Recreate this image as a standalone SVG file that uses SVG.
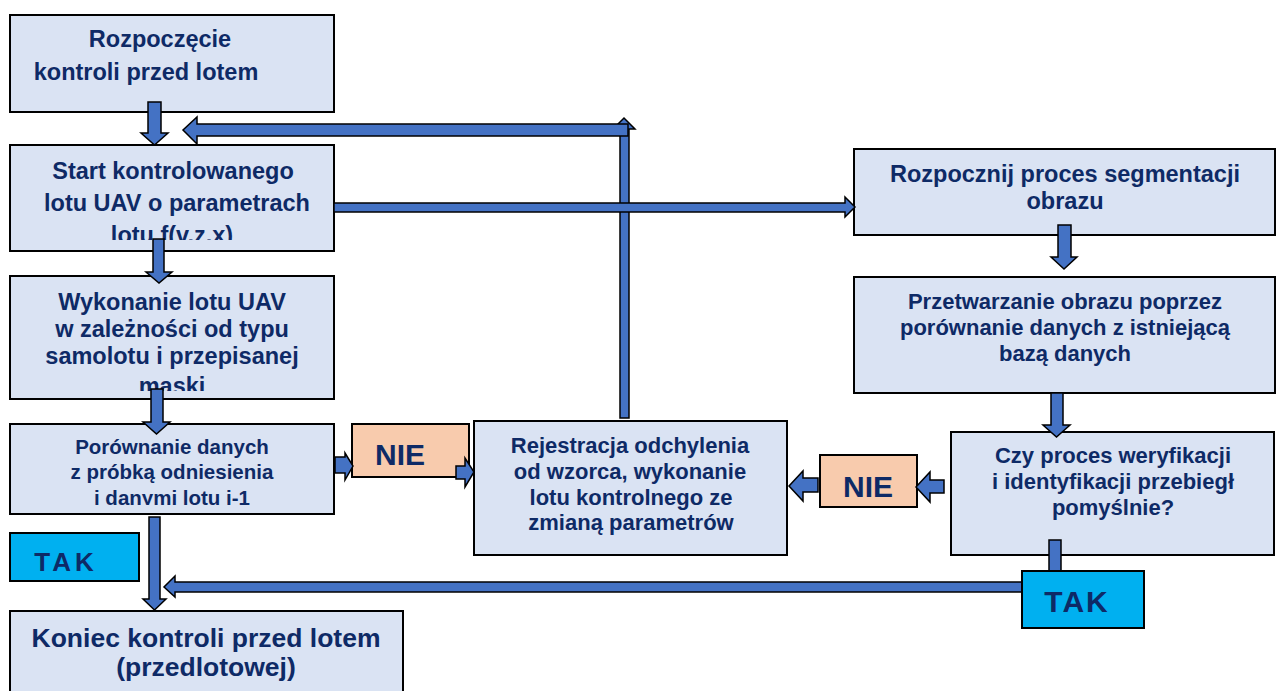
<svg xmlns="http://www.w3.org/2000/svg" width="1278" height="691" viewBox="0 0 1278 691">
<style>
.box{fill:#DAE3F3;stroke:#000;stroke-width:2}
.nie{fill:#F8CBAD;stroke:#000;stroke-width:2}
.tak{fill:#00B0F0;stroke:#000;stroke-width:2}
.t{font-family:"Liberation Sans",Arial,sans-serif;font-weight:bold;fill:#0E2A66;text-anchor:middle}
.arr{fill:#4472C4;stroke:#000;stroke-width:1.5;stroke-linejoin:miter}
</style>
<defs>
<clipPath id="c2"><rect x="10" y="145" width="324" height="95"/></clipPath>
<clipPath id="c3"><rect x="10" y="276" width="324" height="115"/></clipPath>
<clipPath id="c4"><rect x="10" y="424" width="324" height="81"/></clipPath>
</defs>
<rect width="1278" height="691" fill="#fff"/>

<g id="n1">
<rect class="box" x="10" y="15" width="324" height="97"/>
<text class="t" font-size="23.5"><tspan x="160" y="47">Rozpoczęcie</tspan><tspan x="146" y="80">kontroli przed lotem</tspan></text>
</g>
<g id="n2">
<rect class="box" x="10" y="145" width="324" height="106"/>
<g clip-path="url(#c2)"><text class="t" font-size="23.5"><tspan x="173" y="179">Start kontrolowanego</tspan><tspan x="177" y="211">lotu UAV o parametrach</tspan><tspan x="172" y="243">lotu f(v.z.x)</tspan></text></g>
</g>
<g id="n3">
<rect class="box" x="10" y="276" width="324" height="123"/>
<g clip-path="url(#c3)"><text class="t" font-size="23.5"><tspan x="172" y="310">Wykonanie lotu UAV</tspan><tspan x="172" y="337">w zależności od typu</tspan><tspan x="172" y="364">samolotu i przepisanej</tspan><tspan x="172" y="394">maski</tspan></text></g>
</g>
<g id="n4">
<rect class="box" x="10" y="424" width="324" height="90"/>
<g clip-path="url(#c4)"><text class="t" font-size="20.5"><tspan x="172" y="454">Porównanie danych</tspan><tspan x="172" y="479">z próbką odniesienia</tspan><tspan x="172" y="505">i danymi lotu i-1</tspan></text></g>
</g>
<g id="tak1">
<rect class="tak" x="10" y="533" width="129" height="48"/>
<text class="t" font-size="26" letter-spacing="4" x="66" y="571">TAK</text>
</g>
<g id="n5">
<rect class="box" x="10" y="611" width="393" height="95"/>
<text class="t" font-size="26.5"><tspan x="206" y="647">Koniec kontroli przed lotem</tspan><tspan x="206" y="676">(przedlotowej)</tspan></text>
</g>
<g id="nie1">
<rect class="nie" x="352" y="424" width="117" height="53"/>
<text class="t" font-size="30" x="400" y="465">NIE</text>
</g>
<g id="n6">
<rect class="box" x="474" y="421" width="313" height="134"/>
<text class="t" font-size="22"><tspan x="630" y="453">Rejestracja odchylenia</tspan><tspan x="630" y="479">od wzorca, wykonanie</tspan><tspan x="631" y="505">lotu kontrolnego ze</tspan><tspan x="631" y="530">zmianą parametrów</tspan></text>
</g>
<g id="nie2">
<rect class="nie" x="820" y="455" width="97" height="52"/>
<text class="t" font-size="30" x="868" y="497">NIE</text>
</g>
<g id="n7">
<rect class="box" x="854" y="149" width="421" height="86"/>
<text class="t" font-size="23.5"><tspan x="1065" y="182">Rozpocznij proces segmentacji</tspan><tspan x="1065" y="209">obrazu</tspan></text>
</g>
<g id="n8">
<rect class="box" x="854" y="277" width="421" height="116"/>
<text class="t" font-size="22"><tspan x="1065" y="309">Przetwarzanie obrazu poprzez</tspan><tspan x="1065" y="335">porównanie danych z istniejącą</tspan><tspan x="1065" y="361">bazą danych</tspan></text>
</g>
<g id="n9">
<rect class="box" x="951" y="432" width="323" height="123"/>
<text class="t" font-size="22"><tspan x="1113" y="463">Czy proces weryfikacji</tspan><tspan x="1113" y="489">i identyfikacji przebiegł</tspan><tspan x="1113" y="515">pomyślnie?</tspan></text>
</g>

<g id="connectors">
<polygon class="arr" points="148,102 161,102 161,133 168,133 154.5,145 141,133 148,133"/>
<polygon class="arr" points="153,239 164,239 164,272 172,272 159,283 146,272 153,272"/>
<polygon class="arr" points="151,389 163,389 163,422 170,422 156.5,434 143,422 151,422"/>
<polygon class="arr" points="149,517 160,517 160,599 166,599 154.5,610 143,599 149,599"/>
<polygon class="arr" points="620,418 629,418 629,129 635,129 624,118 613,129 620,129"/>
<polygon class="arr" points="628,124 628,136 197,136 197,144 183,130 197,117 197,124"/>
<polygon class="arr" points="334,203 845,203 845,197 855,207 845,217 845,212 334,212"/>
<polygon class="arr" points="1058,225 1071,225 1071,257 1077,257 1064,269 1051,257 1058,257"/>
<polygon class="arr" points="1051,393 1063,393 1063,425 1070,425 1056.5,437 1043,425 1051,425"/>
<polygon class="arr" points="944,480 944,493 930,493 930,502 916,487 930,472 930,480"/>
<polygon class="arr" points="818,478 818,492 803,492 803,501 789,486 803,471 803,478"/>
<polygon class="arr" points="335,457 345,457 345,453 353,466 345,480 345,473 335,473"/>
<polygon class="arr" points="456,466 465,466 465,458 474,472 465,487 465,479 456,479"/>
<polygon class="arr" points="1022,582 1022,592 175,592 175,597 164,587 175,576 175,582"/>
<rect class="arr" x="1049" y="540" width="12" height="31"/>
</g>

<g id="tak2">
<rect class="tak" x="1022" y="571" width="122" height="57"/>
<text class="t" font-size="30" letter-spacing="2" x="1077" y="612">TAK</text>
</g>
</svg>
